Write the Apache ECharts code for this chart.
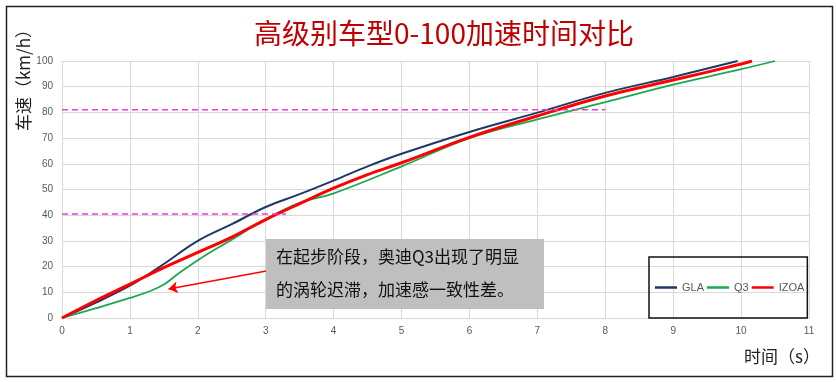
<!DOCTYPE html>
<html>
<head>
<meta charset="utf-8">
<script src="https://cdn.jsdelivr.net/npm/echarts@6/dist/echarts.min.js"></script>
<style>
html,body{margin:0;padding:0;background:#fff;}
#c{width:836px;height:382px;}
</style>
</head>
<body>
<div id="c"></div>
<script>
// ---- data ----
const titleText = '高级别车型0-100加速时间对比';
const yName = '车速（km/h）';
const xName = '时间（s）';
const seriesNames = ['GLA', 'Q3', 'IZOA'];
const glaData = [[0,0],[0.5,6],[1,12.6],[1.3,17.5],[1.5,21],[2,30],[2.5,36.5],[3,43.2],[3.5,48.2],[4,53.5],[4.5,59],[5,63.9],[6,72.4],[7,79.9],[8,87.6],[9,93.8],[9.95,100]];
const q3Data = [[0,0],[0.5,3.8],[1,7.8],[1.3,10.5],[1.5,13],[1.7,17],[2,22.5],[2.5,30.5],[3,38.5],[3.5,44.8],[4,48.5],[5,59],[6,70],[7,77.3],[8,84],[9,90.8],[10,96.8],[10.5,100]];
const izoaData = [[0,0],[0.5,6.8],[1,13.2],[1.5,19.6],[2,25.5],[2.5,31.5],[3,38.3],[3.5,44.5],[4,50.5],[4.5,55.8],[5,60.4],[6,70.3],[7,78.6],[8,86.4],[9,92.6],[10,98.8],[10.16,100]];
const refLine80 = [[0,81],[8,81]];
const refLine40 = [[0,40.5],[3.3,40.5]];
const arrowFrom = [3.03,18.4];
const arrowTo = [1.57,11.3];
const noteLines = ['在起步阶段，奥迪Q3出现了明显', '的涡轮迟滞，加速感一致性差。'];

const chart = echarts.init(document.getElementById('c'));
const cjk = '"Noto Sans CJK SC", "Noto Sans", sans-serif';
const num = '"Liberation Sans Narrow", "Liberation Sans", "DejaVu Sans", sans-serif';

chart.setOption({
  animation: false,
  backgroundColor: '#fff',
  title: {
    text: titleText, left: 439, top: 14, textAlign: 'center',
    textStyle: {color: '#C00000', fontSize: 28, fontWeight: 'normal', fontFamily: cjk}
  },
  grid: {left: 62, right: 27, top: 61, bottom: 64, containLabel: false},
  legend: {
    data: seriesNames.map(n => ({name: n, icon: 'rect'})),
    left: 649, top: 257,
    padding: [25, 3, 25, 6], itemGap: 3, itemWidth: 22, itemHeight: 2.5,
    borderColor: '#111', borderWidth: 1.5,
    textStyle: {color: '#595959', fontSize: 11, fontFamily: num}
  },
  xAxis: {
    type: 'value', min: 0, max: 11, interval: 1,
    axisLine: {show: true, lineStyle: {color: '#D9D9D9'}},
    axisTick: {show: false},
    axisLabel: {color: '#595959', fontSize: 10, margin: 8, fontFamily: num},
    splitLine: {show: true, lineStyle: {color: '#D9D9D9'}}
  },
  yAxis: {
    type: 'value', min: 0, max: 100, interval: 10,
    axisLine: {show: false}, axisTick: {show: false},
    axisLabel: {color: '#595959', fontSize: 10, margin: 9, fontFamily: num},
    splitLine: {show: true, lineStyle: {color: '#D9D9D9'}}
  },
  graphic: [
    {type: 'rect', left: 4, top: 4, shape: {width: 826, height: 370}, style: {fill: 'none', stroke: '#222', lineWidth: 1.5}, z: 0},
    {type: 'text', x: 24, y: 76, rotation: Math.PI / 2, style: {text: yName, fill: '#222', font: '17px ' + cjk, align: 'center', verticalAlign: 'middle'}},
    {type: 'text', x: 820, y: 357, style: {text: xName, fill: '#222', font: '17px ' + cjk, align: 'right', verticalAlign: 'middle'}},
    {type: 'rect', left: 266, top: 239, shape: {width: 278, height: 70}, style: {fill: '#BFBFBF'}, z: 50},
    {type: 'text', x: 276, y: 257, style: {text: noteLines[0], fill: '#111', font: '17px ' + cjk, verticalAlign: 'middle'}, z: 51},
    {type: 'text', x: 276, y: 290, style: {text: noteLines[1], fill: '#111', font: '17px ' + cjk, verticalAlign: 'middle'}, z: 51}
  ],
  series: [
    {name: 'GLA', type: 'line', data: glaData, smooth: 0.4, symbol: 'none', z: 3,
     lineStyle: {color: '#1F3864', width: 2}, itemStyle: {color: '#1F3864'}},
    {name: 'Q3', type: 'line', data: q3Data, smooth: 0.4, symbol: 'none', z: 3,
     lineStyle: {color: '#1BA84F', width: 1.8}, itemStyle: {color: '#1BA84F'}},
    {name: 'IZOA', type: 'line', data: izoaData, smooth: 0.4, symbol: 'none', z: 4,
     lineStyle: {color: '#FF0000', width: 3}, itemStyle: {color: '#FF0000'}},
    {name: 'ref80', type: 'line', data: refLine80, symbol: 'none', z: 5,
     lineStyle: {color: '#EE3BD6', width: 1.5, type: [6, 4]}},
    {name: 'ref40', type: 'line', data: refLine40, symbol: 'none', z: 5,
     lineStyle: {color: '#EE3BD6', width: 1.5, type: [6, 4]},
     markLine: {
       silent: true, symbol: ['none', 'arrow'], symbolSize: 9,
       label: {show: false},
       lineStyle: {color: '#FF0000', width: 1.5, type: 'solid'},
       data: [[{coord: arrowFrom}, {coord: arrowTo}]]
     }}
  ]
});
</script>
</body>
</html>
